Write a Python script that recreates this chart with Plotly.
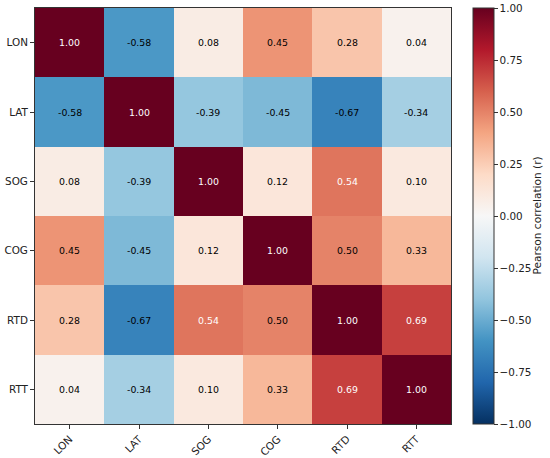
import plotly.graph_objects as go

# variables in the correlation matrix
labels = ['LON', 'LAT', 'SOG', 'COG', 'RTD', 'RTT']

row_lon = [1.00, -0.58, 0.08, 0.45, 0.28, 0.04]
row_lat = [-0.58, 1.00, -0.39, -0.45, -0.67, -0.34]
row_sog = [0.08, -0.39, 1.00, 0.12, 0.54, 0.10]
row_cog = [0.45, -0.45, 0.12, 1.00, 0.50, 0.33]
row_rtd = [0.28, -0.67, 0.54, 0.50, 1.00, 0.69]
row_rtt = [0.04, -0.34, 0.10, 0.33, 0.69, 1.00]

corr = [row_lon, row_lat, row_sog, row_cog, row_rtd, row_rtt]

cbar_ticks = [-1.0, -0.75, -0.5, -0.25, 0.0, 0.25, 0.5, 0.75, 1.0]

# matplotlib RdBu_r
rdbu = ['#053061', '#2166ac', '#4393c3', '#92c5de', '#d1e5f0', '#f7f7f7',
        '#fddbc7', '#f4a582', '#d6604d', '#b2182b', '#67001f']
cscale = [[i / (len(rdbu) - 1), c] for i, c in enumerate(rdbu)]

fnt = 'DejaVu Sans'
edge = '#333333'
tick_sz = 10.4

fig = go.Figure(go.Heatmap(
    z=corr, x=labels, y=labels,
    colorscale=cscale, zmin=-1, zmax=1,
    xgap=0, ygap=0,
    hoverinfo='skip',
    colorbar=dict(
        x=1.053, xanchor='left', xpad=0,
        y=0.5, yanchor='middle', len=1.0, ypad=0,
        thickness=21, outlinecolor=edge, outlinewidth=1,
        tickvals=cbar_ticks,
        ticktext=[('\u2212' if t < 0 else '') + '%.2f' % abs(t) for t in cbar_ticks],
        ticks='outside', ticklen=3.5, tickcolor=edge,
        tickfont=dict(family=fnt, size=tick_sz, color='#222'),
    ),
))

# cell labels, white on the dark red cells
for i, row in enumerate(corr):
    for j, v in enumerate(row):
        fig.add_annotation(
            x=labels[j], y=labels[i], text='%.2f' % v, showarrow=False,
            font=dict(family=fnt, size=9.4, color='white' if v > 0.5 else 'black'),
        )

# colorbar label
fig.add_annotation(
    xref='paper', yref='paper', x=1.225, y=0.5, textangle=-90,
    text='Pearson correlation (r)', showarrow=False,
    font=dict(family=fnt, size=10.6, color='#222'),
)

fig.update_xaxes(
    tickangle=-45, ticks='outside', ticklen=4, tickcolor=edge,
    showline=True, linecolor=edge, linewidth=1, mirror=True,
    tickfont=dict(family=fnt, size=tick_sz, color='#222'),
    showgrid=False, zeroline=False, automargin=False,
)
fig.update_yaxes(
    autorange='reversed', ticks='outside', ticklen=4, tickcolor=edge,
    showline=True, linecolor=edge, linewidth=1, mirror=True,
    tickfont=dict(family=fnt, size=tick_sz, color='#222'),
    showgrid=False, zeroline=False, automargin=False,
)

fig.update_layout(
    width=550, height=458,
    margin=dict(l=35, r=99, t=8, b=34),
    paper_bgcolor='white', plot_bgcolor='white',
    font=dict(family=fnt),
)

# drop the page's default body margin so the figure sits at 0,0
fig.write_html('out.html', config={'displayModeBar': False},
               post_script="document.body.style.margin='0';")
